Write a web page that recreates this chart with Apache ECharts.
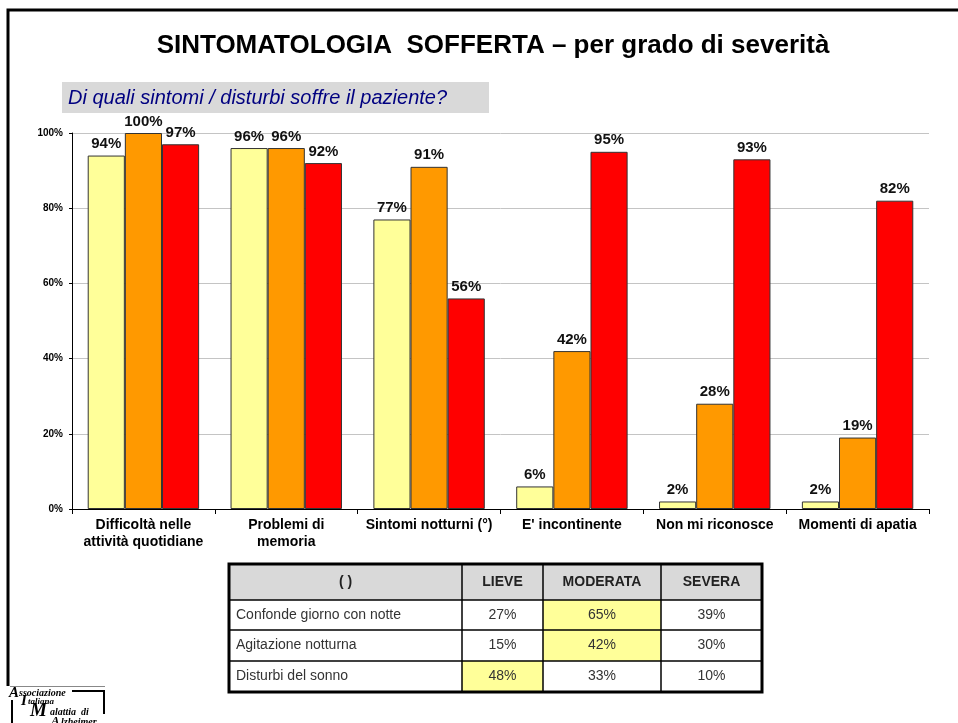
<!DOCTYPE html>
<html>
<head>
<meta charset="utf-8">
<script src="https://cdn.jsdelivr.net/npm/echarts@6/dist/echarts.min.js"></script>
<style>
  html, body { margin: 0; padding: 0; background: #fff; }
  #main { width: 958px; height: 723px; }
</style>
</head>
<body>
<div id="main"></div>
<script>
// categorie e valori (%)
var categories = ['Difficoltà nelle\nattività quotidiane', 'Problemi di\nmemoria', 'Sintomi notturni (°)', "E' incontinente", 'Non mi riconosce', 'Momenti di apatia'];
var lieve = [94, 96, 77, 6, 2, 2];
var moderata = [100, 96, 91, 42, 28, 19];
var severa = [97, 92, 56, 95, 93, 82];
var yTicks = [0, 20, 40, 60, 80, 100];

// tabella sintomi notturni
var tableHeader = ['( )', 'LIEVE', 'MODERATA', 'SEVERA'];
var tableRows = ['Confonde giorno con notte', 'Agitazione notturna', 'Disturbi del sonno'];
var tableValues = [
    ['27%', '65%', '39%'],
    ['15%', '42%', '30%'],
    ['48%', '33%', '10%']
];
var tableHighlight = [1, 1, 0];  // colonna evidenziata per riga

var FONT = '"Liberation Sans", Arial, sans-serif';
var chart = echarts.init(document.getElementById('main'));

function barSeries(name, values, color) {
    return {
        name: name,
        type: 'bar',
        data: values,
        barGap: '0%',
        barCategoryGap: '22%',
        itemStyle: { color: color, borderColor: '#333', borderWidth: 1 },
        label: {
            show: true,
            position: 'top',
            distance: 4,
            formatter: '{c}%',
            fontFamily: FONT,
            fontWeight: 'bold',
            fontSize: 15,
            color: '#111'
        }
    };
}

// tabella come elementi grafici
var colX = [229, 462, 543, 661, 762];
var rowY = [564, 600, 630, 661, 692];
var tableEls = [];
tableEls.push({ type: 'rect', shape: { x: colX[0], y: rowY[0], width: colX[4] - colX[0], height: rowY[1] - rowY[0] }, style: { fill: '#d9d9d9' } });
for (var r = 0; r < tableRows.length; r++) {
    var c = tableHighlight[r] + 1;
    tableEls.push({ type: 'rect', shape: { x: colX[c], y: rowY[r + 1], width: colX[c + 1] - colX[c], height: rowY[r + 2] - rowY[r + 1] }, style: { fill: '#ffff99' } });
}
for (var i = 0; i < tableHeader.length; i++) {
    tableEls.push({
        type: 'text',
        style: { text: tableHeader[i], x: (colX[i] + colX[i + 1]) / 2, y: (rowY[0] + rowY[1]) / 2, align: 'center', verticalAlign: 'middle', font: 'bold 14px ' + FONT, fill: '#222' }
    });
}
for (var r = 0; r < tableRows.length; r++) {
    var cy = (rowY[r + 1] + rowY[r + 2]) / 2;
    tableEls.push({ type: 'text', style: { text: tableRows[r], x: colX[0] + 7, y: cy, verticalAlign: 'middle', font: '14px ' + FONT, fill: '#333' } });
    for (var j = 0; j < 3; j++) {
        tableEls.push({ type: 'text', style: { text: tableValues[r][j], x: (colX[j + 1] + colX[j + 2]) / 2, y: cy, align: 'center', verticalAlign: 'middle', font: '14px ' + FONT, fill: '#333' } });
    }
}
for (var i = 1; i < colX.length - 1; i++) {
    tableEls.push({ type: 'line', shape: { x1: colX[i], y1: rowY[0], x2: colX[i], y2: rowY[4] }, style: { stroke: '#000', lineWidth: 1.5 } });
}
for (var i = 1; i < rowY.length - 1; i++) {
    tableEls.push({ type: 'line', shape: { x1: colX[0], y1: rowY[i], x2: colX[4], y2: rowY[i] }, style: { stroke: '#000', lineWidth: 1.5 } });
}
tableEls.push({ type: 'rect', shape: { x: colX[0], y: rowY[0], width: colX[4] - colX[0], height: rowY[4] - rowY[0] }, style: { fill: 'none', stroke: '#000', lineWidth: 3 } });

// logo AIMA
var serif = '"Liberation Serif", "DejaVu Serif", serif';
function logoText(t, x, y, size) {
    return { type: 'text', style: { text: t, x: x, y: y, verticalAlign: 'bottom', font: 'italic bold ' + size + 'px ' + serif, fill: '#000' } };
}
var logoEls = [
    { type: 'line', shape: { x1: 10, y1: 686.5, x2: 105, y2: 686.5 }, style: { stroke: '#888', lineWidth: 1 } },
    { type: 'polyline', shape: { points: [[72, 691], [104, 691], [104, 714]] }, style: { stroke: '#000', lineWidth: 2, fill: 'none' } },
    { type: 'line', shape: { x1: 12, y1: 700, x2: 12, y2: 723 }, style: { stroke: '#000', lineWidth: 2 } },
    logoText('A', 9, 701, 15),
    logoText('ssociazione', 19, 698, 10),
    logoText('I', 21, 709, 15),
    logoText('taliana', 28, 706, 9),
    logoText('M', 30, 721, 19),
    logoText('alattia  di', 50, 717, 10),
    logoText('A', 51, 728, 13),
    logoText('lzheimer', 61, 727, 10)
];

var option = {
    backgroundColor: '#fff',
    animation: false,
    title: {
        text: 'SINTOMATOLOGIA  SOFFERTA – per grado di severità',
        left: 488,
        top: 28,
        textAlign: 'center',
        textStyle: { fontFamily: FONT, fontWeight: 'bold', fontSize: 26, color: '#000' }
    },
    grid: { left: 72, right: 29, top: 133, bottom: 214, containLabel: false },
    xAxis: {
        type: 'category',
        data: categories,
        axisLine: { lineStyle: { color: '#000', width: 1 } },
        axisTick: { show: true, length: 5, lineStyle: { color: '#000' } },
        axisLabel: {
            interval: 0,
            margin: 8,
            lineHeight: 17,
            fontFamily: FONT,
            fontWeight: 'bold',
            fontSize: 14,
            color: '#000'
        }
    },
    yAxis: {
        type: 'value',
        min: yTicks[0],
        max: yTicks[yTicks.length - 1],
        interval: 20,
        axisLine: { show: true, lineStyle: { color: '#000', width: 1 } },
        axisTick: { show: true, length: 3, lineStyle: { color: '#000' } },
        splitLine: { lineStyle: { color: '#c4c4c4', width: 1 } },
        axisLabel: {
            formatter: '{value}%',
            margin: 9,
            fontFamily: FONT,
            fontWeight: 'bold',
            fontSize: 10,
            color: '#000'
        }
    },
    series: [
        barSeries('LIEVE', lieve, '#ffff99'),
        barSeries('MODERATA', moderata, '#ff9900'),
        barSeries('SEVERA', severa, '#ff0000')
    ],
    graphic: [
        // cornice
        { type: 'polyline', shape: { points: [[8, 686], [8, 10], [958, 10]] }, style: { stroke: '#000', lineWidth: 3, fill: 'none' } },
        // sottotitolo
        { type: 'rect', shape: { x: 62, y: 82, width: 427, height: 31 }, style: { fill: '#d9d9d9' } },
        { type: 'text', style: { text: 'Di quali sintomi / disturbi soffre il paziente?', x: 68, y: 98, verticalAlign: 'middle', font: 'italic 20px ' + FONT, fill: '#000080' } }
    ].concat(tableEls).concat(logoEls)
};

chart.setOption(option);
</script>
</body>
</html>
